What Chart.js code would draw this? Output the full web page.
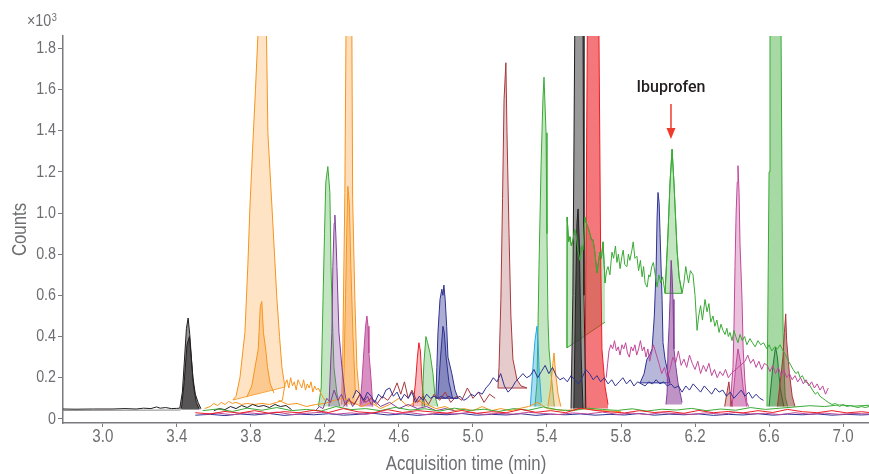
<!DOCTYPE html>
<html>
<head>
<meta charset="utf-8">
<title>Chromatogram</title>
<script src="https://cdn.jsdelivr.net/npm/chart.js@4.4.1/dist/chart.umd.min.js"></script>
<style>
  html, body { margin: 0; padding: 0; background: #fff; }
  #wrap { width: 869px; height: 474px; }
</style>
</head>
<body>
<div id="wrap"><canvas id="chart" width="869" height="474"></canvas></div>
<script>
// ---- axes ----
const xTicks = [3.0, 3.4, 3.8, 4.2, 4.6, 5.0, 5.4, 5.8, 6.2, 6.6, 7.0];
const yTicks = [0, 0.2, 0.4, 0.6, 0.8, 1.0, 1.2, 1.4, 1.6, 1.8];

// ---- traces (time in min, counts x10^3) ----
// black baseline + peak at 3.45
const blkBaseT = [2.785, 2.85, 2.95, 3.05, 3.12, 3.18, 3.22, 3.26, 3.29, 3.31, 3.34, 3.37, 3.40, 3.416];
const blkBaseV = [0.048, 0.047, 0.048, 0.048, 0.050, 0.048, 0.052, 0.050, 0.058, 0.052, 0.055, 0.050, 0.051, 0.052];
const grayBaseT = [2.785, 3.42];
const grayBaseV = [0.041, 0.043];
const blkPkAT = [3.416, 3.430, 3.440, 3.452, 3.461, 3.470, 3.480, 3.487, 3.500, 3.515, 3.530];
const blkPkAV = [0.052, 0.13, 0.27, 0.44, 0.49, 0.41, 0.28, 0.20, 0.12, 0.08, 0.05];
const blkPkBT = [3.425, 3.440, 3.455, 3.468, 3.478, 3.490, 3.505, 3.520];
const blkPkBV = [0.05, 0.18, 0.36, 0.40, 0.30, 0.16, 0.08, 0.05];
const blkNT = [3.60, 3.63, 3.66, 3.69, 3.72, 3.75, 3.78, 3.81, 3.84, 3.87, 3.90, 3.93, 3.96, 3.99, 4.02];
const blkNV = [0.04, 0.05, 0.045, 0.06, 0.05, 0.065, 0.055, 0.07, 0.06, 0.065, 0.055, 0.07, 0.06, 0.065, 0.045];
// black 5.57 (outer + inner)
const blkPkCT = [5.530, 5.540, 5.550, 5.560, 5.570, 5.580, 5.595, 5.600, 5.610];
const blkPkCV = [0.05, 0.60, 1.86, 2.60, 2.80, 2.50, 1.86, 0.60, 0.05];
const blkPkDT = [5.545, 5.555, 5.562, 5.568, 5.575, 5.585, 5.595];
const blkPkDV = [0.05, 0.60, 0.95, 1.02, 0.85, 0.30, 0.05];

// orange
const orgPkAT = [3.703, 3.720, 3.741, 3.768, 3.784, 3.795, 3.811, 3.825, 3.838, 3.850, 3.860, 3.872, 3.884, 3.892, 3.914, 3.941, 3.955, 3.968, 3.984];
const orgPkAV = [0.092, 0.11, 0.20, 0.42, 0.75, 1.03, 1.34, 1.60, 1.86, 2.30, 2.60, 2.40, 1.90, 1.39, 1.03, 0.58, 0.40, 0.25, 0.155];
const orgBaseT = [3.703, 3.984];
const orgBaseV = [0.092, 0.155];
const orgPkBT = [3.778, 3.805, 3.840, 3.851, 3.859, 3.868, 3.880, 3.890, 3.905, 3.925];
const orgPkBV = [0.105, 0.16, 0.34, 0.545, 0.57, 0.42, 0.34, 0.25, 0.17, 0.125];
const orgNT = [3.55, 3.58, 3.60, 3.62, 3.64, 3.66, 3.68, 3.70, 3.72, 3.75,
  3.78, 3.82, 3.86, 3.90, 3.94, 3.97, 3.985, 3.995, 4.005, 4.015,
  4.025, 4.035, 4.045, 4.055, 4.065, 4.075, 4.085, 4.095, 4.105, 4.115,
  4.125, 4.135, 4.145, 4.155, 4.165, 4.18, 4.20];
const orgNV = [0.05, 0.06, 0.075, 0.065, 0.08, 0.07, 0.085, 0.075, 0.08, 0.07,
  0.075, 0.07, 0.075, 0.07, 0.08, 0.09, 0.17, 0.19, 0.15, 0.20,
  0.16, 0.18, 0.14, 0.19, 0.17, 0.15, 0.19, 0.14, 0.17, 0.15,
  0.18, 0.13, 0.16, 0.14, 0.15, 0.12, 0.09];
const orgLowT = [3.95, 4.00, 4.05, 4.10, 4.15, 4.20, 4.25, 4.30, 4.40, 4.45,
  4.50, 4.55, 4.60, 4.65, 4.70, 4.75, 4.80, 4.85, 4.90, 4.95,
  5.00, 5.05, 5.10, 5.15, 5.20, 5.25, 5.30, 5.35, 5.40, 5.50,
  5.60, 5.70, 5.80];
const orgLowV = [0.09, 0.07, 0.075, 0.06, 0.07, 0.075, 0.09, 0.10, 0.06, 0.08,
  0.05, 0.07, 0.10, 0.06, 0.09, 0.07, 0.05, 0.06, 0.04, 0.05,
  0.04, 0.06, 0.04, 0.05, 0.04, 0.05, 0.06, 0.08, 0.05, 0.04,
  0.05, 0.04, 0.035];
const orgPkCT = [4.290, 4.296, 4.308, 4.314, 4.325, 4.335, 4.346, 4.350, 4.362, 4.373, 4.384, 4.400];
const orgPkCV = [0.07, 0.27, 1.10, 1.86, 2.60, 2.50, 1.86, 1.07, 0.58, 0.25, 0.14, 0.07];
const orgPkDT = [4.300, 4.312, 4.318, 4.324, 4.332, 4.340, 4.352, 4.365];
const orgPkDV = [0.10, 0.60, 0.90, 1.13, 1.05, 0.75, 0.40, 0.12];
const orgPkET = [5.405, 5.420, 5.432, 5.438, 5.447, 5.460, 5.475];
const orgPkEV = [0.06, 0.15, 0.27, 0.32, 0.22, 0.12, 0.06];

// green
const grnPkAT = [4.165, 4.180, 4.190, 4.198, 4.205, 4.216, 4.227, 4.233, 4.243, 4.249, 4.265, 4.280];
const grnPkAV = [0.06, 0.15, 0.58, 0.90, 1.15, 1.226, 1.10, 0.74, 0.42, 0.25, 0.125, 0.06];
const grnPkBT = [4.725, 4.735, 4.746, 4.755, 4.768, 4.784, 4.795, 4.810];
const grnPkBV = [0.06, 0.27, 0.40, 0.37, 0.32, 0.22, 0.11, 0.06];
const grnPkCT = [5.335, 5.346, 5.351, 5.357, 5.368, 5.378, 5.384, 5.395, 5.400, 5.405, 5.411, 5.427, 5.440];
const grnPkCV = [0.06, 0.175, 0.42, 0.74, 1.23, 1.55, 1.66, 1.39, 0.90, 0.50, 0.34, 0.175, 0.06];
const grnPkDT = [6.589, 6.600, 6.605, 6.620, 6.638, 6.655, 6.665, 6.672, 6.676, 6.681, 6.687, 6.700];
const grnPkDV = [0.06, 1.20, 1.86, 2.50, 2.80, 2.50, 1.86, 0.80, 0.42, 0.25, 0.107, 0.06];
const grnPkET = [6.600, 6.620, 6.635, 6.645, 6.660, 6.680];
const grnPkEV = [0.06, 0.25, 0.35, 0.30, 0.15, 0.06];
// noisy green trace 5.5 - 7.14 (carries the ibuprofen peak)
const grnNT = [5.508, 5.509, 5.517, 5.524, 5.532, 5.541, 5.549, 5.557, 5.567, 5.578,
  5.586, 5.595, 5.605, 5.613, 5.622, 5.632, 5.640, 5.649, 5.660, 5.670,
  5.678, 5.686, 5.694, 5.703, 5.709, 5.714, 5.722, 5.730, 5.740, 5.751,
  5.760, 5.770, 5.778, 5.786, 5.795, 5.805, 5.812, 5.820, 5.832, 5.840,
  5.848, 5.859, 5.866, 5.875, 5.886, 5.895, 5.905, 5.914, 5.922, 5.930,
  5.941, 5.950, 5.957, 5.966, 5.975, 5.985, 5.995, 6.005, 6.015, 6.025,
  6.038, 6.054, 6.065, 6.076, 6.086, 6.103, 6.114, 6.130, 6.140, 6.150,
  6.157, 6.165, 6.175, 6.189, 6.200, 6.211, 6.220, 6.230, 6.240, 6.254,
  6.265, 6.275, 6.285, 6.297, 6.307, 6.318, 6.330, 6.340, 6.351, 6.362,
  6.372, 6.380, 6.389, 6.400, 6.410, 6.420, 6.432, 6.443, 6.455, 6.468,
  6.480, 6.497, 6.510, 6.525, 6.540, 6.555, 6.570, 6.589, 6.600, 6.615,
  6.630, 6.645, 6.660, 6.676, 6.690, 6.705, 6.718, 6.730, 6.745, 6.757,
  6.768, 6.780, 6.795, 6.810, 6.822, 6.835, 6.850, 6.862, 6.875, 6.890,
  6.905, 6.920, 6.940, 6.960, 6.980, 7.000, 7.020, 7.040, 7.060, 7.080,
  7.100, 7.120, 7.140];
const grnNV = [0.345, 0.98, 0.86, 0.885, 0.84, 0.87, 0.92, 0.90, 0.82, 0.77,
  0.84, 0.82, 0.98, 0.95, 0.93, 0.90, 0.87, 0.87, 0.80, 0.71,
  0.76, 0.81, 0.78, 0.86, 0.75, 0.66, 0.72, 0.74, 0.70, 0.81,
  0.78, 0.84, 0.76, 0.80, 0.73, 0.79, 0.82, 0.75, 0.74, 0.80,
  0.77, 0.82, 0.86, 0.78, 0.79, 0.72, 0.77, 0.69, 0.74, 0.66,
  0.64, 0.70, 0.69, 0.74, 0.76, 0.70, 0.64, 0.70, 0.66, 0.69,
  0.61, 0.90, 1.15, 1.31, 1.15, 0.82, 0.69, 0.61, 0.66, 0.74,
  0.70, 0.66, 0.72, 0.70, 0.60, 0.43, 0.50, 0.55, 0.48, 0.58,
  0.52, 0.56, 0.47, 0.50, 0.45, 0.48, 0.42, 0.46, 0.43, 0.41,
  0.44, 0.40, 0.42, 0.38, 0.43, 0.40, 0.37, 0.41, 0.38, 0.40,
  0.36, 0.39, 0.37, 0.35, 0.38, 0.36, 0.37, 0.34, 0.36, 0.33,
  0.35, 0.34, 0.36, 0.33, 0.31, 0.28, 0.26, 0.24, 0.22, 0.23,
  0.20, 0.21, 0.18, 0.175, 0.16, 0.14, 0.12, 0.13, 0.11, 0.10,
  0.09, 0.08, 0.07, 0.075, 0.06, 0.07, 0.06, 0.065, 0.06, 0.055,
  0.06, 0.055, 0.06];
const grnTrapBaseT = [5.508, 5.714];
const grnTrapBaseV = [0.345, 0.47];
const ibuBaseT = [6.038, 6.130];
const ibuBaseV = [0.61, 0.61];

// purple
const purPkAT = [4.222, 4.227, 4.238, 4.243, 4.250, 4.254, 4.259, 4.265, 4.276, 4.292, 4.308, 4.320];
const purPkAV = [0.06, 0.175, 0.42, 0.74, 0.95, 0.99, 0.90, 0.74, 0.42, 0.25, 0.125, 0.06];
const purPkBT = [6.043, 6.049, 6.054, 6.060, 6.065, 6.071, 6.076, 6.081, 6.086, 6.097, 6.108, 6.130];
const purPkBV = [0.07, 0.125, 0.34, 0.45, 0.58, 0.77, 0.70, 0.58, 0.34, 0.25, 0.175, 0.08];
const purNT = [4.15, 4.17, 4.19, 4.21, 4.23, 4.25, 4.27, 4.29, 4.31, 4.33,
  4.35, 4.37, 4.39, 4.41, 4.43, 4.45, 4.47, 4.50, 4.55, 4.60,
  4.65, 4.70, 4.75, 4.80, 4.85, 4.90];
const purNV = [0.04, 0.06, 0.05, 0.10, 0.08, 0.14, 0.09, 0.12, 0.07, 0.10,
  0.06, 0.09, 0.12, 0.08, 0.11, 0.07, 0.09, 0.06, 0.08, 0.05,
  0.07, 0.05, 0.06, 0.04, 0.05, 0.04];

// magenta
const magPkAT = [4.389, 4.400, 4.410, 4.420, 4.427, 4.433, 4.438, 4.449, 4.459];
const magPkAV = [0.06, 0.175, 0.32, 0.45, 0.50, 0.45, 0.32, 0.20, 0.06];
const magPkBT = [6.390, 6.405, 6.410, 6.416, 6.422, 6.428, 6.432, 6.438, 6.443, 6.454, 6.460, 6.470, 6.480, 6.490];
const magPkBV = [0.06, 0.25, 0.42, 0.74, 1.00, 1.15, 1.23, 1.10, 0.85, 0.58, 0.34, 0.175, 0.08, 0.06];
const magPkCT = [6.400, 6.420, 6.432, 6.445, 6.460, 6.480];
const magPkCV = [0.06, 0.25, 0.34, 0.28, 0.15, 0.06];
const magNT = [5.720, 5.728, 5.735, 5.745, 5.755, 5.765, 5.775, 5.785, 5.795, 5.805,
  5.815, 5.825, 5.835, 5.845, 5.855, 5.865, 5.875, 5.885, 5.895, 5.905,
  5.915, 5.925, 5.935, 5.945, 5.955, 5.965, 5.975, 5.985, 5.995, 6.005,
  6.020, 6.035, 6.050, 6.065, 6.080, 6.095, 6.110, 6.125, 6.140, 6.155,
  6.170, 6.185, 6.200, 6.215, 6.230, 6.245, 6.260, 6.275, 6.290, 6.305,
  6.320, 6.335, 6.350, 6.365, 6.380, 6.395,
  6.470, 6.485, 6.500, 6.515, 6.530, 6.545, 6.560, 6.575, 6.590, 6.605,
  6.620, 6.635, 6.650, 6.665, 6.680, 6.695, 6.710, 6.725, 6.740, 6.755,
  6.770, 6.785, 6.800, 6.815, 6.830, 6.845, 6.860, 6.875, 6.890, 6.905,
  6.920];
const magNV = [0.20, 0.27, 0.33, 0.36, 0.34, 0.38, 0.33, 0.35, 0.31, 0.36,
  0.34, 0.37, 0.32, 0.30, 0.35, 0.33, 0.36, 0.31, 0.34, 0.38,
  0.33, 0.35, 0.30, 0.34, 0.28, 0.32, 0.36, 0.33, 0.30, 0.27,
  0.22, 0.25, 0.20, 0.24, 0.30, 0.27, 0.33, 0.26, 0.29, 0.25,
  0.31, 0.27, 0.24, 0.28, 0.22, 0.26, 0.23, 0.27, 0.21, 0.24,
  0.20, 0.23, 0.21, 0.24, 0.20, 0.22,
  0.28, 0.31, 0.27, 0.29, 0.25, 0.28, 0.24, 0.27, 0.26, 0.23,
  0.26, 0.22, 0.25, 0.21, 0.24, 0.20, 0.22, 0.19, 0.21, 0.18,
  0.20, 0.17, 0.19, 0.16, 0.18, 0.15, 0.17, 0.14, 0.16, 0.12,
  0.15];

// red / dark red
const redPkAT = [4.676, 4.690, 4.700, 4.708, 4.716, 4.724, 4.733, 4.740];
const redPkAV = [0.06, 0.18, 0.30, 0.37, 0.33, 0.19, 0.10, 0.06];
const redPkBT = [5.605, 5.612, 5.618, 5.630, 5.650, 5.670, 5.681, 5.690, 5.697, 5.714, 5.730];
const redPkBV = [0.05, 1.00, 1.86, 2.60, 2.90, 2.60, 1.86, 0.80, 0.34, 0.155, 0.07];
const drPkAT = [5.135, 5.141, 5.151, 5.160, 5.168, 5.178, 5.184, 5.195, 5.205, 5.216, 5.238, 5.260, 5.292];
const drPkAV = [0.15, 0.25, 0.58, 1.07, 1.55, 1.73, 1.39, 0.90, 0.50, 0.29, 0.19, 0.16, 0.15];
const drPkBT = [6.645, 6.660, 6.675, 6.683, 6.690, 6.695, 6.710, 6.725, 6.740];
const drPkBV = [0.06, 0.175, 0.30, 0.42, 0.51, 0.38, 0.22, 0.11, 0.06];
const drPkCT = [6.360, 6.375, 6.383, 6.390, 6.400];
const drPkCV = [0.06, 0.14, 0.18, 0.12, 0.06];
const drNT = [4.30, 4.33, 4.36, 4.39, 4.42, 4.45, 4.48, 4.51, 4.54, 4.57,
  4.59, 4.61, 4.63, 4.65, 4.67, 4.70, 4.73, 4.76, 4.79, 4.82,
  4.85, 4.88, 4.91, 4.94, 4.97, 5.00, 5.03, 5.06, 5.09, 5.12];
const drNV = [0.06, 0.09, 0.07, 0.12, 0.08, 0.10, 0.07, 0.11, 0.09, 0.13,
  0.175, 0.12, 0.18, 0.10, 0.14, 0.08, 0.11, 0.07, 0.12, 0.09,
  0.13, 0.08, 0.11, 0.09, 0.15, 0.10, 0.13, 0.08, 0.12, 0.10];

// blue
const bluPkAT = [4.800, 4.805, 4.811, 4.822, 4.832, 4.838, 4.843, 4.850, 4.858, 4.865, 4.886, 4.903, 4.920];
const bluPkAV = [0.10, 0.25, 0.42, 0.58, 0.63, 0.60, 0.65, 0.58, 0.45, 0.30, 0.22, 0.14, 0.10];
const bluPkBT = [4.810, 4.825, 4.838, 4.845, 4.855, 4.870, 4.890];
const bluPkBV = [0.10, 0.30, 0.45, 0.42, 0.30, 0.18, 0.10];
const bluPkCT = [5.903, 5.925, 5.940, 5.955, 5.968, 5.980, 5.990, 5.995, 6.000, 6.006, 6.011, 6.022, 6.027, 6.038, 6.065];
const bluPkCV = [0.175, 0.22, 0.29, 0.31, 0.34, 0.50, 0.74, 0.98, 1.10, 1.05, 0.90, 0.58, 0.37, 0.29, 0.175];
const lbPkT = [5.310, 5.324, 5.335, 5.346, 5.352, 5.357, 5.370];
const lbPkV = [0.06, 0.25, 0.38, 0.45, 0.38, 0.25, 0.08];
const bluNT = [4.35, 4.37, 4.39, 4.41, 4.43, 4.45, 4.47, 4.49, 4.51, 4.53,
  4.55, 4.57, 4.59, 4.61, 4.63, 4.65, 4.67, 4.69, 4.71, 4.73,
  4.75, 4.77, 4.79,
  4.81, 4.83, 4.85, 4.87, 4.89, 4.91, 4.93, 4.95, 4.97, 4.99,
  5.01, 5.03, 5.05, 5.07, 5.09, 5.11, 5.13, 5.15, 5.17, 5.19,
  5.21, 5.23, 5.25, 5.27, 5.29, 5.31, 5.33, 5.35, 5.37, 5.39,
  5.41, 5.43, 5.45, 5.47, 5.49,
  5.51, 5.53, 5.55, 5.57, 5.59, 5.61, 5.63, 5.65, 5.67, 5.69,
  5.71, 5.73, 5.75, 5.77, 5.79, 5.81, 5.83, 5.85, 5.87, 5.89, 5.91,
  5.93, 5.95, 5.97, 5.99, 6.01, 6.03, 6.05,
  6.07, 6.09, 6.11, 6.13, 6.15, 6.17, 6.19, 6.21, 6.23, 6.25,
  6.27, 6.29, 6.31, 6.33, 6.35, 6.37, 6.39, 6.41, 6.43, 6.45,
  6.47, 6.49, 6.51, 6.53, 6.55, 6.57];
const bluNV = [0.10, 0.14, 0.12, 0.09, 0.13, 0.11, 0.08, 0.12, 0.10, 0.14,
  0.15, 0.11, 0.13, 0.09, 0.12, 0.10, 0.13, 0.08, 0.11, 0.09,
  0.12, 0.10, 0.11,
  0.10, 0.11, 0.10, 0.11, 0.10, 0.10, 0.11, 0.09, 0.10, 0.12,
  0.11, 0.13, 0.12, 0.15, 0.17, 0.20, 0.18, 0.22, 0.16, 0.13,
  0.15, 0.18, 0.20, 0.22, 0.20, 0.21, 0.24, 0.20, 0.23, 0.26,
  0.22, 0.25, 0.21, 0.19, 0.20,
  0.18, 0.21, 0.19, 0.17, 0.20, 0.24, 0.22, 0.19, 0.21, 0.18,
  0.20, 0.17, 0.19, 0.16, 0.18, 0.20, 0.17, 0.19, 0.16, 0.18, 0.17,
  0.16, 0.18, 0.17, 0.19, 0.17, 0.18, 0.16,
  0.17, 0.15, 0.16, 0.13, 0.16, 0.14, 0.17, 0.15, 0.13, 0.16,
  0.14, 0.12, 0.15, 0.13, 0.14, 0.11, 0.13, 0.10, 0.12, 0.14,
  0.11, 0.13, 0.10, 0.12, 0.10, 0.09];

// low-level clutter along the baseline
const lowT = [3.50, 3.58, 3.66, 3.74, 3.82, 3.90, 3.98, 4.06, 4.14, 4.22,
  4.30, 4.38, 4.46, 4.54, 4.62, 4.70, 4.78, 4.86, 4.94, 5.02,
  5.10, 5.18, 5.26, 5.34, 5.42, 5.50, 5.58, 5.66, 5.74, 5.82,
  5.90, 5.98, 6.06, 6.14, 6.22, 6.30, 6.38, 6.46, 6.54, 6.62,
  6.70, 6.78, 6.86, 6.94, 7.02, 7.10, 7.14];
const lowT2 = [3.54, 3.62, 3.70, 3.78, 3.86, 3.94, 4.02, 4.10, 4.18, 4.26,
  4.34, 4.42, 4.50, 4.58, 4.66, 4.74, 4.82, 4.90, 4.98, 5.06,
  5.14, 5.22, 5.30, 5.38, 5.46, 5.54, 5.62, 5.70, 5.78, 5.86,
  5.94, 6.02, 6.10, 6.18, 6.26, 6.34, 6.42, 6.50, 6.58, 6.66,
  6.74, 6.82, 6.90, 6.98, 7.06, 7.14];
const lowRedV = [0.030, 0.024, 0.036, 0.028, 0.040, 0.027, 0.035, 0.030, 0.042, 0.031,
  0.050, 0.034, 0.029, 0.045, 0.031, 0.040, 0.034, 0.028, 0.041, 0.027,
  0.035, 0.030, 0.046, 0.032, 0.040, 0.030, 0.052, 0.041, 0.034, 0.029,
  0.040, 0.031, 0.036, 0.027, 0.041, 0.030, 0.036, 0.029, 0.040, 0.031,
  0.046, 0.035, 0.030, 0.040, 0.029, 0.035, 0.031];
const lowBluV = [0.018, 0.022, 0.016, 0.024, 0.019, 0.026, 0.017, 0.023, 0.020, 0.025,
  0.018, 0.022, 0.027, 0.019, 0.024, 0.017, 0.023, 0.020, 0.026, 0.018,
  0.022, 0.019, 0.025, 0.017, 0.023, 0.020, 0.024, 0.018, 0.022, 0.019,
  0.026, 0.018, 0.023, 0.020, 0.024, 0.017, 0.022, 0.019, 0.025, 0.018,
  0.023, 0.020, 0.024, 0.018, 0.022, 0.019, 0.021];
const lowMagV = [0.022, 0.028, 0.020, 0.030, 0.024, 0.033, 0.021, 0.027, 0.032, 0.023,
  0.029, 0.022, 0.034, 0.025, 0.030, 0.021, 0.028, 0.024, 0.031, 0.022,
  0.027, 0.023, 0.032, 0.026, 0.021, 0.029, 0.024, 0.033, 0.022, 0.028,
  0.021, 0.030, 0.025, 0.022, 0.029, 0.023, 0.031, 0.024, 0.027, 0.021,
  0.030, 0.023, 0.028, 0.022, 0.026, 0.024];
const lowGrnV = [0.040, 0.048, 0.036, 0.052, 0.042, 0.055, 0.040, 0.046, 0.038, 0.060,
  0.045, 0.050, 0.040, 0.056, 0.043, 0.049, 0.038, 0.052, 0.041, 0.047,
  0.036, 0.050, 0.042, 0.058, 0.044, 0.040, 0.052, 0.046, 0.041, 0.049,
  0.038, 0.047, 0.043, 0.051, 0.040, 0.048, 0.042, 0.055, 0.046, 0.052,
  0.058, 0.064, 0.060, 0.068, 0.062, 0.066];

// annotation
const ibuLabel = 'Ibuprofen';
const ibuT = 6.07;
const ibuLabelV = 1.605;
const ibuArrowV = [1.53, 1.36];

// ---- look ----
// no condensed face is installed, so axis text is squeezed horizontally
const FONT = "'Liberation Sans', Arial, sans-serif";
const SQUEEZE = 0.84;
const AX = '#7a7b7e';
const TXT = '#6d6e71';
const COL = {
  black: '#231f20', gray: '#555555', orange: '#f7941d', green: '#3aaa35',
  purple: '#7f3f98', magenta: '#c1489a', red: '#ed1c24', darkred: '#a9373b',
  navy: '#2e3192', ltblue: '#27aae1'
};

function pts(ts, vs) {
  return ts.map((t, i) => ({ x: t, y: vs[i] }));
}
function line(ts, vs, color, extra) {
  return Object.assign({
    data: pts(ts, vs), borderColor: color, borderWidth: 1,
    pointRadius: 0, fill: false, tension: 0
  }, extra || {});
}
function area(ts, vs, color, bg, target) {
  return line(ts, vs, color, { fill: { target: target }, backgroundColor: bg });
}

const datasets = [];
// clutter on top
datasets.push(line(lowT, lowRedV, COL.red));
datasets.push(line(lowT2, lowMagV, COL.magenta));
datasets.push(line(lowT, lowBluV, COL.navy));
datasets.push(line(lowT2, lowGrnV, COL.green));
datasets.push(line(blkNT, blkNV, COL.black));
datasets.push(line(bluNT, bluNV, COL.navy));
datasets.push(line(magNT, magNV, COL.magenta));
datasets.push(line(grnNT, grnNV, COL.green));
datasets.push(line(drNT, drNV, COL.darkred));
datasets.push(line(purNT, purNV, COL.purple));
datasets.push(line(orgNT, orgNV, COL.orange));
datasets.push(line(orgLowT, orgLowV, COL.orange));

// black 3.45
datasets.push(line(blkBaseT, blkBaseV, COL.black));
datasets.push(line(grayBaseT, grayBaseV, '#8a8a8a'));
datasets.push(area(blkPkBT, blkPkBV, COL.black, 'rgba(35,31,32,0.55)', { value: 0.045 }));
datasets.push(area(blkPkAT, blkPkAV, COL.black, 'rgba(110,110,110,0.7)', { value: 0.045 }));

// orange 3.86 (fill to sloped baseline)
datasets.push(area(orgPkBT, orgPkBV, COL.orange, 'rgba(250,170,80,0.45)', '+2'));
datasets.push(area(orgPkAT, orgPkAV, COL.orange, 'rgba(253,200,140,0.5)', '+1'));
datasets.push(line(orgBaseT, orgBaseV, COL.orange));

// 4.2 - 4.45 cluster
datasets.push(area(magPkAT, magPkAV, COL.magenta, 'rgba(190,70,155,0.6)', { value: 0.06 }));
datasets.push(area(purPkAT, purPkAV, COL.purple, 'rgba(150,90,165,0.35)', { value: 0.06 }));
datasets.push(area(orgPkDT, orgPkDV, COL.orange, 'rgba(250,160,60,0.4)', { value: 0.07 }));
datasets.push(area(orgPkCT, orgPkCV, COL.orange, 'rgba(253,195,130,0.55)', { value: 0.07 }));
datasets.push(area(grnPkAT, grnPkAV, COL.green, 'rgba(58,170,53,0.3)', { value: 0.06 }));

// 4.7 - 4.9 cluster
datasets.push(area(bluPkBT, bluPkBV, COL.navy, 'rgba(46,49,146,0.3)', { value: 0.10 }));
datasets.push(area(bluPkAT, bluPkAV, COL.navy, 'rgba(46,49,146,0.4)', '+1'));
datasets.push(line([4.80, 4.92], [0.10, 0.10], COL.navy));
datasets.push(area(grnPkBT, grnPkBV, COL.green, 'rgba(58,170,53,0.3)', { value: 0.06 }));
datasets.push(area(redPkAT, redPkAV, COL.red, 'rgba(237,28,36,0.3)', { value: 0.06 }));

// 5.18 dark red
datasets.push(area(drPkAT, drPkAV, COL.darkred, 'rgba(180,105,105,0.35)', '+1'));
datasets.push(line([5.135, 5.292], [0.15, 0.15], COL.darkred));

// 5.3 - 5.45 cluster
datasets.push(area(orgPkET, orgPkEV, COL.orange, 'rgba(250,175,90,0.4)', { value: 0.06 }));
datasets.push(area(lbPkT, lbPkV, COL.ltblue, 'rgba(39,170,225,0.4)', { value: 0.06 }));
datasets.push(area(grnPkCT, grnPkCV, COL.green, 'rgba(58,170,53,0.3)', { value: 0.06 }));

// 5.57 black, 5.65 red, green trapezoid
datasets.push(area(blkPkDT, blkPkDV, COL.black, 'rgba(35,31,32,0.6)', { value: 0.05 }));
datasets.push(area(blkPkCT, blkPkCV, COL.black, 'rgba(110,110,110,0.7)', { value: 0.05 }));
datasets.push(area(redPkBT, redPkBV, COL.red, 'rgba(237,28,36,0.6)', { value: 0.05 }));
datasets.push(area(grnNT.slice(0, 26), grnNV.slice(0, 26), COL.green, 'rgba(58,170,53,0.3)', '+1'));
datasets.push(line(grnTrapBaseT, grnTrapBaseV, COL.green));

// 6.0 - 6.1 cluster (ibuprofen)
datasets.push(area(purPkBT, purPkBV, COL.purple, 'rgba(127,40,140,0.5)', { value: 0.07 }));
datasets.push(area(grnNT.slice(60, 68), grnNV.slice(60, 68), COL.green, 'rgba(58,170,53,0.3)', '+1'));
datasets.push(line(ibuBaseT, ibuBaseV, COL.green));
datasets.push(area(bluPkCT, bluPkCV, COL.navy, 'rgba(46,49,146,0.35)', '+1'));
datasets.push(line([5.903, 6.065], [0.175, 0.175], COL.navy));

// 6.4 - 6.75 cluster
datasets.push(area(drPkCT, drPkCV, COL.darkred, 'rgba(169,55,59,0.35)', { value: 0.06 }));
datasets.push(area(magPkCT, magPkCV, COL.magenta, 'rgba(193,72,154,0.35)', { value: 0.06 }));
datasets.push(area(magPkBT, magPkBV, COL.magenta, 'rgba(210,120,180,0.45)', { value: 0.06 }));
datasets.push(area(drPkBT, drPkBV, COL.darkred, 'rgba(130,60,40,0.5)', { value: 0.06 }));
datasets.push(area(grnPkET, grnPkEV, '#1f7a32', 'rgba(30,120,50,0.3)', { value: 0.06 }));
datasets.push(area(grnPkDT, grnPkDV, COL.green, 'rgba(58,170,53,0.45)', { value: 0.06 }));

// squeeze the axis text (ticks + titles) while the scales are drawn
const condense = {
  id: 'condense',
  beforeDraw(chart) {
    const ctx = chart.ctx;
    if (!ctx._plainFillText) ctx._plainFillText = ctx.fillText;
    ctx.fillText = function (text, x, y) {
      this.save();
      this.translate(x, y);
      this.scale(SQUEEZE, 1);
      this._plainFillText(text, 0, 0);
      this.restore();
    };
  },
  beforeDatasetsDraw(chart) {
    chart.ctx.fillText = chart.ctx._plainFillText;
  }
};

// labels drawn on the canvas
const annot = {
  id: 'annot',
  afterDraw(chart) {
    const { ctx, scales } = chart;
    const xs = scales.x, ys = scales.y;
    ctx.save();
    ctx.fillStyle = TXT;
    ctx.textAlign = 'left';
    ctx.textBaseline = 'alphabetic';
    ctx.save();
    ctx.translate(27, 26);
    ctx.scale(SQUEEZE, 1);
    ctx.font = '17px ' + FONT;
    ctx.fillText('×10', 0, 0);
    const w = ctx.measureText('×10').width;
    ctx.font = '11px ' + FONT;
    ctx.fillText('3', w + 0.5, -5);
    ctx.restore();

    const px = xs.getPixelForValue(ibuT);
    ctx.fillStyle = COL.black;
    ctx.textAlign = 'center';
    ctx.textBaseline = 'middle';
    ctx.font = '500 16px Roboto, ' + FONT;
    ctx.fillText(ibuLabel, px, ys.getPixelForValue(ibuLabelV));

    const y0 = ys.getPixelForValue(ibuArrowV[0]);
    const y1 = ys.getPixelForValue(ibuArrowV[1]);
    ctx.strokeStyle = '#ef3b2c';
    ctx.fillStyle = '#ef3b2c';
    ctx.lineWidth = 1.5;
    ctx.beginPath();
    ctx.moveTo(px, y0);
    ctx.lineTo(px, y1 - 8);
    ctx.stroke();
    ctx.beginPath();
    ctx.moveTo(px - 4.5, y1 - 11);
    ctx.lineTo(px + 4.5, y1 - 11);
    ctx.lineTo(px, y1);
    ctx.closePath();
    ctx.fill();
    ctx.restore();
  }
};

new Chart(document.getElementById('chart'), {
  type: 'line',
  data: { datasets: datasets },
  options: {
    responsive: false,
    animation: false,
    devicePixelRatio: 1,
    layout: { padding: { top: 36, left: 0, right: 0, bottom: 0 } },
    plugins: { legend: { display: false }, tooltip: { enabled: false } },
    elements: { line: { borderJoinStyle: 'round' } },
    scales: {
      x: {
        type: 'linear',
        min: 2.785,
        max: 7.14,
        afterFit: s => { s.height = 51; },
        afterBuildTicks: s => { s.ticks = xTicks.map(v => ({ value: v })); },
        border: { display: true, color: AX, width: 1.5 },
        grid: { display: true, drawOnChartArea: false, drawTicks: true, tickLength: 4, color: AX },
        ticks: {
          color: TXT, padding: 1, autoSkip: false, maxRotation: 0,
          font: { family: FONT, size: 18, lineHeight: 1 },
          callback: v => v.toFixed(1)
        },
        title: {
          display: true, text: 'Acquisition time (min)', color: TXT,
          font: { family: FONT, size: 20, lineHeight: 1 },
          padding: { top: 0, bottom: 0 }
        }
      },
      y: {
        type: 'linear',
        min: -0.02,
        max: 1.86,
        afterFit: s => { s.width = 63; },
        afterBuildTicks: s => { s.ticks = yTicks.map(v => ({ value: v })); },
        border: { display: true, color: AX, width: 1.5 },
        grid: { display: true, drawOnChartArea: false, drawTicks: true, tickLength: 5, color: AX },
        ticks: {
          color: TXT, padding: 2,
          font: { family: FONT, size: 17, lineHeight: 1 },
          callback: v => (v === 0 ? '0' : v.toFixed(1))
        },
        title: {
          display: true, text: 'Counts', color: TXT,
          font: { family: FONT, size: 20, lineHeight: 1 },
          padding: { top: 10, bottom: 0 }
        }
      }
    }
  },
  plugins: [condense, annot]
});
</script>
</body>
</html>
